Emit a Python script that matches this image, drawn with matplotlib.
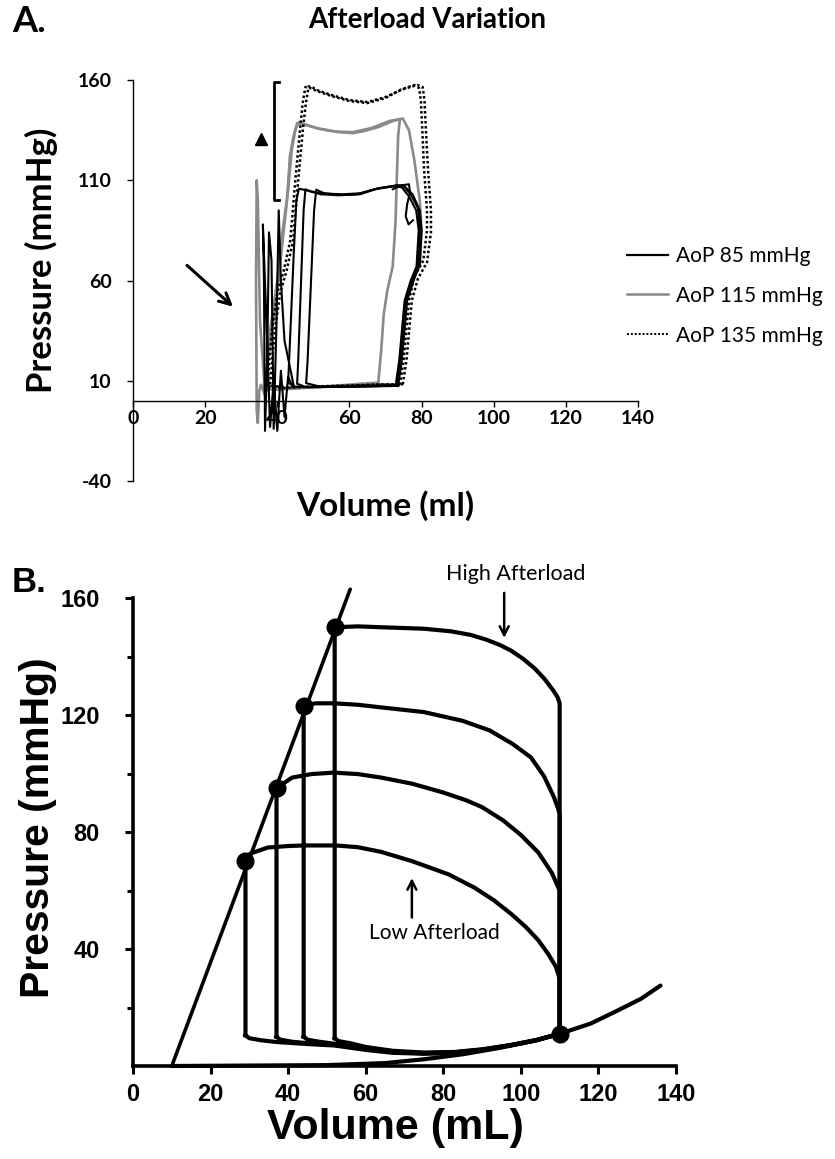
import matplotlib
matplotlib.use("Agg")
import matplotlib.pyplot as plt
from matplotlib.lines import Line2D

plt.rcParams["axes.unicode_minus"] = False
W, H = 835, 1159

# ---------------- Panel A data ----------------
a_xticks = [0, 20, 40, 60, 80, 100, 120, 140]
a_yticks = [-40, 10, 60, 110, 160]
legend_labels = ["AoP 85 mmHg", "AoP 115 mmHg", "AoP 135 mmHg"]

# AoP 85 mmHg (black) loops
black_v1 = [73.5, 74.5, 76.0, 78.0, 79.5, 80.0, 79.5, 77.5, 75.0, 73.2, 68.0, 63.0, 58.0, 52.0, 48.0, 46.0, 45.3, 44.6, 44.0, 43.4, 43.0, 45.0, 50.0, 58.0, 66.0, 73.5]
black_p1 = [7.5, 20.0, 50.0, 61.0, 68.0, 85.0, 95.0, 103.0, 107.5, 107.5, 106.0, 103.5, 103.0, 103.5, 105.0, 105.8, 100.0, 75.0, 50.0, 25.0, 9.0, 7.0, 6.8, 7.0, 7.3, 7.5]
black_v2 = [72.8, 73.8, 75.3, 77.0, 78.6, 79.2, 78.5, 76.5, 74.5, 72.5, 67.0, 62.0, 57.0, 52.0, 49.0, 47.8, 47.3, 46.8, 46.3, 45.8, 45.5, 48.0, 55.0, 63.0, 72.8]
black_p2 = [7.4, 20.0, 50.0, 60.0, 67.0, 85.0, 95.0, 102.0, 106.5, 107.0, 105.5, 103.0, 102.5, 103.0, 104.5, 105.5, 95.0, 70.0, 45.0, 20.0, 8.5, 6.8, 6.9, 7.1, 7.4]
black_v3 = [73.0, 74.0, 75.5, 77.5, 79.0, 79.5, 79.0, 77.0, 75.0, 73.0, 68.0, 63.0, 58.0, 53.0, 50.8, 50.2, 49.6, 49.0, 48.4, 48.0, 52.0, 60.0, 67.0, 73.0]
black_p3 = [7.6, 20.0, 50.0, 61.0, 67.5, 86.0, 96.0, 103.0, 107.0, 107.3, 106.0, 103.0, 102.6, 103.5, 105.3, 95.0, 70.0, 45.0, 20.0, 8.8, 7.0, 7.1, 7.3, 7.6]
black_wiggle_v = [72.0, 74.5, 76.5, 76.8, 76.0, 75.6, 76.4, 77.6]
black_wiggle_p = [105.5, 107.5, 108.0, 104.0, 98.0, 92.0, 88.0, 90.0]
black_noise_v = [44.5, 42.0, 41.0, 40.4, 39.8, 39.0, 38.4, 37.7, 37.2, 36.6, 36.3, 36.0, 37.0, 38.0, 39.0, 40.0, 41.0, 42.0, 43.0, 44.0]
black_noise_p = [8.0, 30.0, 60.0, 95.0, 40.0, -14.0, 70.0, 84.0, 20.0, -15.0, 60.0, 88.0, 40.0, -13.0, 10.0, -15.0, 15.0, -8.0, 12.0, 8.0]

# AoP 115 mmHg (grey) loops
grey_v1 = [68.0, 68.8, 69.5, 70.5, 72.0, 72.8, 73.2, 73.5, 74.0, 72.0, 68.0, 64.0, 61.0, 57.0, 52.0, 48.0, 45.5, 44.5, 43.5, 42.7, 41.5, 40.0, 38.5, 37.0, 36.2, 40.0, 48.0, 56.0, 63.0, 68.0]
grey_p1 = [9.0, 25.0, 43.0, 55.0, 67.0, 90.0, 115.0, 132.0, 140.5, 139.5, 136.5, 134.5, 133.5, 134.0, 135.5, 137.5, 138.5, 132.0, 122.0, 100.0, 80.0, 55.0, 35.0, 15.0, 6.0, 5.5, 6.5, 7.5, 8.5, 9.0]
grey_v2 = [73.0, 74.0, 75.5, 77.5, 79.5, 80.0, 79.5, 78.0, 76.5, 74.8, 71.0, 66.0, 61.0, 56.0, 51.0, 47.5, 46.0, 45.0, 44.0, 43.0, 41.5, 40.0, 38.0, 36.8, 42.0, 50.0, 60.0, 68.0, 73.0]
grey_p2 = [8.0, 20.0, 50.0, 60.0, 67.5, 85.0, 100.0, 120.0, 135.0, 140.8, 139.5, 136.0, 134.0, 134.3, 136.0, 138.0, 139.0, 135.0, 125.0, 105.0, 85.0, 60.0, 35.0, 8.0, 6.0, 6.8, 7.6, 8.0, 8.0]
grey_noise_v = [36.5, 35.2, 34.6, 34.3, 34.1, 34.3, 34.6, 35.0, 35.5, 36.5, 37.5]
grey_noise_p = [7.0, 40.0, 100.0, 110.0, 60.0, -5.0, -11.0, 5.0, 8.0, 3.0, 7.0]

# AoP 135 mmHg (dotted) loops
dot_v1 = [74.0, 75.0, 76.5, 78.0, 80.5, 81.5, 81.5, 80.7, 80.2, 79.8, 79.3, 77.9, 74.0, 70.0, 65.0, 60.0, 55.0, 51.0, 48.5, 47.8, 47.0, 46.4, 45.0, 43.6, 41.8, 40.0, 38.5, 37.2, 42.0, 50.0, 60.0, 68.0, 74.0]
dot_p1 = [8.0, 20.0, 50.0, 62.0, 70.0, 85.0, 95.0, 115.0, 135.0, 150.0, 156.0, 157.5, 155.0, 151.0, 148.5, 149.5, 152.0, 154.5, 156.5, 156.5, 148.0, 137.0, 110.0, 80.0, 65.0, 53.7, 35.0, 7.0, 6.5, 7.0, 7.5, 8.0, 8.0]
dot_v2 = [74.8, 75.8, 77.3, 79.0, 81.5, 82.6, 82.6, 81.8, 81.2, 80.8, 80.3, 78.8, 75.0, 70.0, 65.0, 60.0, 55.0, 51.0, 49.3, 48.7, 47.9, 47.2, 45.8, 44.4, 42.6, 40.8, 39.3, 38.0, 43.0, 51.0, 61.0, 69.0, 74.8]
dot_p2 = [8.2, 20.0, 50.0, 61.0, 69.0, 84.0, 95.0, 115.0, 135.0, 150.0, 156.5, 157.5, 155.5, 151.5, 149.0, 150.0, 152.5, 155.0, 156.8, 156.8, 148.0, 137.0, 110.0, 80.0, 65.0, 53.7, 35.0, 7.5, 6.8, 7.2, 7.7, 8.2, 8.2]

# annotation geometry (data units)
a_arrow_start = (14.4, 68.5)
a_arrow_end = (28.3, 46.0)
a_bracket_v = [40.6, 39.0, 39.0, 40.6]
a_bracket_p = [159.0, 159.0, 100.0, 100.0]
a_triangle = (35.5, 130.8)

# ---------------- Panel B data ----------------
b_xticks = [0, 20, 40, 60, 80, 100, 120, 140]
b_yticks = [40, 80, 120, 160]
b_yminor = [20, 60, 100, 140]

espvr_v = [10.0, 56.0]
espvr_p = [0.0, 163.0]
edpvr_v = [10.0, 50.0, 65.0, 75.0, 85.0, 95.0, 103.0, 110.0, 118.0, 125.0, 131.0, 136.0]
edpvr_p = [0.0, 0.3, 1.0, 2.3, 4.0, 6.3, 8.5, 11.0, 14.5, 19.0, 23.0, 27.5]

# end-systolic points (dots) and end-diastolic point
es_v = [29.0, 37.0, 44.0, 52.0]
es_p = [70.0, 95.0, 123.0, 150.0]
ed_v = [110.0]
ed_p = [11.0]

# ejection (top) curves, from end-systole point to end-diastolic volume
top1_v = [29.0, 30.2, 34.8, 40.0, 44.0, 52.3, 58.0, 64.0, 72.0, 81.4, 88.0, 93.0, 97.5, 101.3, 104.5, 107.0, 109.0, 110.0]
top1_p = [70.0, 72.6, 74.7, 75.2, 75.4, 75.4, 74.8, 73.2, 70.0, 65.5, 61.0, 56.7, 52.0, 47.5, 43.0, 38.4, 34.0, 30.0]
top2_v = [37.0, 41.0, 46.0, 51.7, 58.0, 64.0, 72.0, 80.0, 86.0, 90.0, 95.4, 100.0, 104.5, 108.0, 110.0]
top2_p = [95.0, 98.6, 99.8, 100.3, 99.8, 98.6, 96.5, 93.5, 90.8, 88.5, 84.0, 79.0, 73.0, 66.0, 60.0]
top3_v = [44.0, 47.0, 51.7, 58.0, 64.0, 75.0, 85.0, 92.0, 98.0, 102.6, 106.0, 108.5, 109.6, 110.0]
top3_p = [123.0, 124.0, 124.0, 123.5, 122.6, 121.0, 118.0, 114.7, 110.0, 105.5, 99.0, 92.0, 88.0, 86.0]
top4_v = [52.0, 58.0, 64.0, 75.0, 82.0, 87.0, 91.0, 94.5, 97.5, 100.5, 103.5, 106.0, 108.3, 109.5, 110.0]
top4_p = [150.0, 150.3, 150.0, 149.5, 148.6, 147.4, 145.8, 144.0, 142.0, 139.3, 136.0, 132.5, 128.5, 126.0, 124.0]

# filling (bottom) curves, from end-systolic volume to end-diastolic point
bot1_v = [29.0, 30.0, 33.0, 37.0, 45.0, 52.0, 60.0, 67.0, 75.0, 83.0, 90.0, 97.0, 104.0, 110.0]
bot1_p = [10.5, 9.5, 8.8, 8.2, 7.5, 7.0, 5.5, 4.5, 4.2, 4.5, 5.5, 7.0, 8.8, 11.0]
bot2_v = [37.0, 38.0, 41.0, 45.0, 52.0, 60.0, 67.0, 75.0, 83.0, 90.0, 97.0, 104.0, 110.0]
bot2_p = [10.0, 9.0, 8.3, 7.8, 7.2, 5.8, 4.8, 4.3, 4.6, 5.5, 7.0, 8.8, 11.0]
bot3_v = [44.0, 45.0, 48.0, 52.0, 60.0, 67.0, 75.0, 83.0, 90.0, 97.0, 104.0, 110.0]
bot3_p = [10.0, 9.0, 8.3, 7.6, 6.0, 5.0, 4.4, 4.7, 5.6, 7.0, 8.8, 11.0]
bot4_v = [52.0, 53.0, 56.0, 60.0, 67.0, 75.0, 83.0, 90.0, 97.0, 104.0, 110.0]
bot4_p = [9.5, 8.5, 7.8, 6.5, 5.2, 4.6, 4.8, 5.7, 7.1, 8.9, 11.0]

high_text_xy = (98.6, 168.3)
high_arrow = ((95.7, 162.7), (95.7, 145.4))
low_text_xy = (77.7, 45.3)
low_arrow = ((71.9, 49.8), (71.9, 65.2))

# ---------------- Figure ----------------
fig = plt.figure(figsize=(W / 100, H / 100), dpi=100)
LATO = "Lato"
ARIAL = "Liberation Sans"

def fx(px):
    return px / W

def fy(py):
    return 1 - py / H

# ---- Panel A ----
axA = fig.add_axes([fx(133), fy(481), (638 - 133) / W, (481 - 80) / H])
GREY = "#8a8a8a"
for v, p in [(grey_v1, grey_p1), (grey_v2, grey_p2), (grey_noise_v, grey_noise_p)]:
    axA.plot(v, p, color=GREY, lw=1.9, solid_joinstyle="round")
for v, p in [(dot_v1, dot_p1), (dot_v2, dot_p2)]:
    axA.plot(v, p, color="black", lw=1.8, linestyle=(0, (1, 1)))
for v, p in [(black_v1, black_p1), (black_v2, black_p2), (black_v3, black_p3),
             (black_wiggle_v, black_wiggle_p), (black_noise_v, black_noise_p)]:
    axA.plot(v, p, color="black", lw=1.5, solid_joinstyle="round")

axA.set_xlim(0, 140)
axA.set_ylim(-40, 160)
axA.spines["top"].set_visible(False)
axA.spines["right"].set_visible(False)
axA.spines["bottom"].set_position(("data", 0))
for s in ["left", "bottom"]:
    axA.spines[s].set_linewidth(1.0)
axA.set_xticks(a_xticks)
axA.set_yticks(a_yticks)
axA.tick_params(axis="y", direction="out", length=4.5, width=1.0, pad=11)
axA.tick_params(axis="x", direction="out", length=4.5, width=1.0, pad=2)
for lab in axA.get_xticklabels() + axA.get_yticklabels():
    lab.set_fontfamily(LATO)
    lab.set_fontweight("bold")
    lab.set_fontsize(14)

# annotations in A
axA.annotate("", xy=a_arrow_end, xytext=a_arrow_start,
             arrowprops=dict(arrowstyle="->", color="black", lw=2.2,
                             mutation_scale=20))
axA.plot(a_bracket_v, a_bracket_p, color="black", lw=2.0)
axA.plot([a_triangle[0]], [a_triangle[1]], marker="^", color="black", ms=8)

handles = [Line2D([], [], color="black", lw=1.6),
           Line2D([], [], color=GREY, lw=1.8),
           Line2D([], [], color="black", lw=1.4, linestyle=(0, (1, 1)))]
leg = axA.legend(handles, legend_labels, loc="upper left",
                 bbox_to_anchor=((627 - 133) / 505, (481 - 246) / 401),
                 frameon=False, borderpad=0, borderaxespad=0,
                 handlelength=1.95, handletextpad=0.4, labelspacing=0.95,
                 prop=dict(family=LATO, size=15))

fig.text(fx(12), fy(22), "A.", fontfamily=LATO, fontweight="bold", fontsize=26,
         ha="left", va="center")
fig.text(fx(427), fy(20), "Afterload Variation", fontfamily=LATO,
         fontweight="bold", fontsize=20, ha="center", va="center")
fig.text(fx(41), fy(260), "Pressure (mmHg)", fontfamily=LATO, fontweight="bold",
         fontsize=25, rotation=90, ha="center", va="center")
fig.text(fx(385), fy(506), "Volume (ml)", fontfamily=LATO, fontweight="bold",
         fontsize=24, ha="center", va="center")

# ---- Panel B ----
axB = fig.add_axes([fx(133), fy(1066), (676 - 133) / W, (1066 - 598) / H])
LW = 3.0
axB.plot(espvr_v, espvr_p, color="black", lw=2.6, clip_on=False,
         solid_capstyle="round")
axB.plot(edpvr_v, edpvr_p, color="black", lw=LW, clip_on=False,
         solid_capstyle="round")
tops = [(top1_v, top1_p), (top2_v, top2_p), (top3_v, top3_p), (top4_v, top4_p)]
bots = [(bot1_v, bot1_p), (bot2_v, bot2_p), (bot3_v, bot3_p), (bot4_v, bot4_p)]
for (tv, tp), (bv, bp) in zip(tops, bots):
    loop_v = bv + tv[::-1] + [bv[0]]
    loop_p = bp + tp[::-1] + [bp[0]]
    axB.plot(loop_v, loop_p, color="black", lw=LW, solid_joinstyle="round",
             clip_on=False)
axB.plot(es_v, es_p, linestyle="none", marker="o", ms=12, color="black",
         clip_on=False)
axB.plot(ed_v, ed_p, linestyle="none", marker="o", ms=12, color="black",
         clip_on=False)

axB.set_xlim(0, 140)
axB.set_ylim(0, 160)
axB.spines["top"].set_visible(False)
axB.spines["right"].set_visible(False)
for s in ["left", "bottom"]:
    axB.spines[s].set_linewidth(2.6)
axB.set_xticks(b_xticks)
axB.set_yticks(b_yticks)
axB.set_yticks(b_yminor, minor=True)
axB.tick_params(axis="both", which="major", direction="out", length=6, width=2.2)
axB.tick_params(axis="y", which="major", pad=18)
axB.tick_params(axis="x", which="major", pad=6)
axB.tick_params(axis="y", which="minor", direction="out", length=4, width=2.2)
for lab in axB.get_xticklabels() + axB.get_yticklabels():
    lab.set_fontfamily(ARIAL)
    lab.set_fontweight("bold")
    lab.set_fontsize(17)

axB.annotate("", xy=high_arrow[1], xytext=high_arrow[0],
             arrowprops=dict(arrowstyle="->", color="black", lw=1.8,
                             mutation_scale=16), annotation_clip=False)
axB.text(*high_text_xy, "High Afterload", fontfamily=LATO, fontsize=15.5,
         ha="center", va="center", clip_on=False)
axB.annotate("", xy=low_arrow[1], xytext=low_arrow[0],
             arrowprops=dict(arrowstyle="->", color="black", lw=1.8,
                             mutation_scale=16))
axB.text(*low_text_xy, "Low Afterload", fontfamily=LATO, fontsize=15,
         ha="center", va="center")

fig.text(fx(12), fy(583), "B.", fontfamily=ARIAL, fontweight="bold", fontsize=25,
         ha="left", va="center")
fig.text(fx(38), fy(828), "Pressure (mmHg)", fontfamily=ARIAL, fontweight="bold",
         fontsize=29.5, rotation=90, ha="center", va="center")
fig.text(fx(395), fy(1128), "Volume (mL)", fontfamily=ARIAL, fontweight="bold",
         fontsize=31, ha="center", va="center")

fig.savefig("out.png", dpi=100)
